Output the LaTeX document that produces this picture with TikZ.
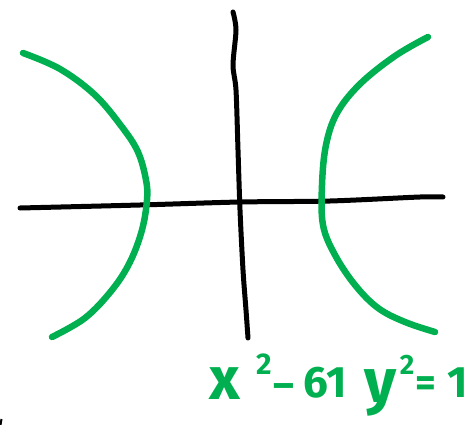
\documentclass[tikz,border=0pt]{standalone}
\usepackage{fontspec}
\setmainfont{Fira Sans}
\definecolor{penGreen}{RGB}{0,176,80}
\begin{document}
\begin{tikzpicture}[x=1pt,y=-1pt,
  axis/.style={line width=5pt,line cap=round,line join=round,black},
  branch/.style={line width=6.5pt,line cap=round,line join=round,penGreen},
  hand/.style={text=penGreen,font=\bfseries,inner sep=0pt,anchor=center}]
\useasboundingbox (0,0) rectangle (476,425);
% axes
\draw[axis] plot[smooth] coordinates {(20,208) (140,205) (240,202) (330,201) (420,197) (443,197)};
\draw[axis] plot[smooth] coordinates {(233,12) (236,30) (233,65) (236,90) (238,150) (240,210) (243,270) (246,310) (248,338)};
% left branch
\draw[branch] plot[smooth,tension=0.6] coordinates {(23,53) (60,69) (95,95) (122,127) (138,152) (146,180) (147,200) (142,230) (130,262) (112,290) (85,318) (52,337)};
% right branch
\draw[branch] plot[smooth,tension=0.6] coordinates {(428,37) (395,56) (360,84) (337,113) (326,145) (322,185) (323,225) (335,255) (355,285) (378,308) (405,322) (435,332)};
% equation
\node[hand,font=\bfseries\fontsize{60}{60}\selectfont] (ex) at (225,384) {x};
\node[hand,font=\bfseries\fontsize{30}{30}\selectfont] (e2a) at (264,364) {2};
\node[hand,font=\bfseries\fontsize{40}{40}\selectfont] (edash) at (284,391) {–};
\node[hand,font=\bfseries\fontsize{44}{44}\selectfont] (e61) at (325,383) {61};
\node[hand,font=\bfseries\fontsize{62}{62}\selectfont,anchor=base] (ey) at (381,402) {y};
\node[hand,font=\bfseries\fontsize{28}{28}\selectfont] (e2b) at (407,365) {2};
\node[hand,font=\bfseries\fontsize{40}{40}\selectfont] (eeq) at (426,387) {=};
\node[hand,font=\bfseries\fontsize{44}{44}\selectfont] (e1) at (458,383) {1};
% stray mark
\draw[line width=2pt,black] (0.5,425) -- (1.5,419);
\end{tikzpicture}
\end{document}
